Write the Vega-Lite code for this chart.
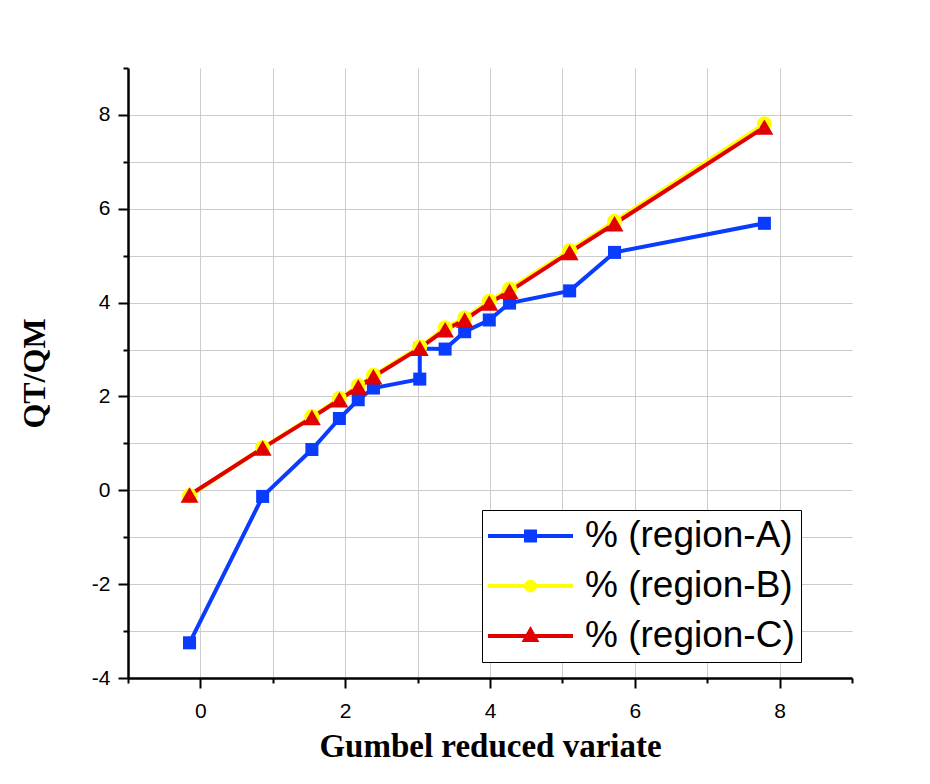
{
  "$schema": "https://vega.github.io/schema/vega-lite/v6.json",
  "width": 724,
  "height": 610,
  "autosize": "none",
  "padding": {"left": 128, "top": 68, "right": 78, "bottom": 106},
  "background": "white",
  "config": {
    "view": {"stroke": null},
    "axis": {
      "domainColor": "black",
      "domainWidth": 2.5,
      "tickColor": "black",
      "tickWidth": 2,
      "gridColor": "#cccccc",
      "gridWidth": 1,
      "labelFont": "Liberation Sans",
      "labelFontSize": 21,
      "labelColor": "black",
      "titleFont": "Liberation Serif",
      "titleFontWeight": "bold",
      "titleColor": "black"
    },
    "legend": {
      "title": null,
      "orient": "none",
      "legendX": 354,
      "legendY": 442,
      "padding": 6,
      "strokeColor": "black",
      "fillColor": "white",
      "labelFont": "Liberation Sans",
      "labelFontSize": 37,
      "labelColor": "black",
      "labelOffset": 12,
      "labelLimit": 400,
      "rowPadding": 10,
      "clipHeight": 40,
      "symbolSize": 7225,
      "symbolStrokeWidth": 0,
      "symbolOpacity": 1
    }
  },
  "data": {
    "values": [
      {"region": "% (region-A)", "i": 1, "x": -0.15, "y": -3.25},
      {"region": "% (region-A)", "i": 2, "x": 0.86, "y": -0.13},
      {"region": "% (region-A)", "i": 3, "x": 1.54, "y": 0.87},
      {"region": "% (region-A)", "i": 4, "x": 1.92, "y": 1.53},
      {"region": "% (region-A)", "i": 5, "x": 2.18, "y": 1.93},
      {"region": "% (region-A)", "i": 6, "x": 2.39, "y": 2.18},
      {"region": "% (region-A)", "i": 7, "x": 3.03, "y": 2.37},
      {"region": "% (region-A)", "i": 8, "x": 3.03, "y": 3.02},
      {"region": "% (region-A)", "i": 9, "x": 3.38, "y": 3.01},
      {"region": "% (region-A)", "i": 10, "x": 3.65, "y": 3.38},
      {"region": "% (region-A)", "i": 11, "x": 3.99, "y": 3.63},
      {"region": "% (region-A)", "i": 12, "x": 4.27, "y": 3.99},
      {"region": "% (region-A)", "i": 13, "x": 5.10, "y": 4.25},
      {"region": "% (region-A)", "i": 14, "x": 5.72, "y": 5.07},
      {"region": "% (region-A)", "i": 15, "x": 7.79, "y": 5.69},
      {"region": "% (region-B)", "i": 1, "x": -0.15, "y": -0.12},
      {"region": "% (region-B)", "i": 2, "x": 0.86, "y": 0.91},
      {"region": "% (region-B)", "i": 3, "x": 1.54, "y": 1.57},
      {"region": "% (region-B)", "i": 4, "x": 1.92, "y": 1.96},
      {"region": "% (region-B)", "i": 5, "x": 2.18, "y": 2.23},
      {"region": "% (region-B)", "i": 6, "x": 2.39, "y": 2.45},
      {"region": "% (region-B)", "i": 7, "x": 3.03, "y": 3.06},
      {"region": "% (region-B)", "i": 8, "x": 3.38, "y": 3.46},
      {"region": "% (region-B)", "i": 9, "x": 3.65, "y": 3.67},
      {"region": "% (region-B)", "i": 10, "x": 3.99, "y": 4.03},
      {"region": "% (region-B)", "i": 11, "x": 4.27, "y": 4.29},
      {"region": "% (region-B)", "i": 12, "x": 5.10, "y": 5.11},
      {"region": "% (region-B)", "i": 13, "x": 5.72, "y": 5.73},
      {"region": "% (region-B)", "i": 14, "x": 7.79, "y": 7.81},
      {"region": "% (region-C)", "i": 1, "x": -0.15, "y": -0.10},
      {"region": "% (region-C)", "i": 2, "x": 0.86, "y": 0.90},
      {"region": "% (region-C)", "i": 3, "x": 1.54, "y": 1.55},
      {"region": "% (region-C)", "i": 4, "x": 1.92, "y": 1.93},
      {"region": "% (region-C)", "i": 5, "x": 2.18, "y": 2.20},
      {"region": "% (region-C)", "i": 6, "x": 2.39, "y": 2.42},
      {"region": "% (region-C)", "i": 7, "x": 3.03, "y": 3.03},
      {"region": "% (region-C)", "i": 8, "x": 3.38, "y": 3.42},
      {"region": "% (region-C)", "i": 9, "x": 3.65, "y": 3.63},
      {"region": "% (region-C)", "i": 10, "x": 3.99, "y": 3.99},
      {"region": "% (region-C)", "i": 11, "x": 4.27, "y": 4.24},
      {"region": "% (region-C)", "i": 12, "x": 5.10, "y": 5.07},
      {"region": "% (region-C)", "i": 13, "x": 5.72, "y": 5.68},
      {"region": "% (region-C)", "i": 14, "x": 7.79, "y": 7.74}
    ]
  },
  "encoding": {
    "x": {
      "field": "x", "type": "quantitative",
      "scale": {"domain": [-1, 9], "nice": false, "zero": false},
      "axis": {
        "title": "Gumbel reduced variate",
        "titleFontSize": 33,
        "values": [-1, 0, 1, 2, 3, 4, 5, 6, 7, 8, 9],
        "labelExpr": "datum.value % 2 === 0 ? '' + datum.value : ''",
        "tickSize": {"condition": {"test": "datum.value % 2 === 0", "value": 10}, "value": 5},
        "gridOpacity": {"condition": {"test": "datum.value === 9 || datum.value === -1", "value": 0}, "value": 1},
        "labelPadding": 12,
        "titlePadding": 9,
        "labelFlush": false
      }
    },
    "y": {
      "field": "y", "type": "quantitative",
      "scale": {"domain": [-4, 9], "nice": false, "zero": false},
      "axis": {
        "title": "QT/QM",
        "titleFontSize": 32,
        "values": [-4, -3, -2, -1, 0, 1, 2, 3, 4, 5, 6, 7, 8, 9],
        "labelExpr": "datum.value % 2 === 0 ? '' + datum.value : ''",
        "tickSize": {"condition": {"test": "datum.value % 2 === 0", "value": 10}, "value": 5},
        "gridOpacity": {"condition": {"test": "datum.value === 9 || datum.value === -4", "value": 0}, "value": 1},
        "labelPadding": 8,
        "titlePadding": 40,
        "labelFlush": false
      }
    }
  },
  "layer": [
    {
      "transform": [{"filter": "datum.region === '% (region-A)'"}],
      "mark": {"type": "line", "strokeWidth": 4, "color": "#0a3cff"},
      "encoding": {"order": {"field": "i", "type": "quantitative"}}
    },
    {
      "transform": [{"filter": "datum.region === '% (region-B)'"}],
      "mark": {"type": "line", "strokeWidth": 4, "color": "#ffff00"},
      "encoding": {"order": {"field": "i", "type": "quantitative"}}
    },
    {
      "transform": [{"filter": "datum.region === '% (region-C)'"}],
      "mark": {"type": "line", "strokeWidth": 4, "color": "#e00000"},
      "encoding": {"order": {"field": "i", "type": "quantitative"}}
    },
    {
      "transform": [{"filter": "datum.region === '% (region-A)'"}],
      "mark": {"type": "point", "shape": "square", "filled": true, "opacity": 1, "size": 170, "color": "#0a3cff"}
    },
    {
      "transform": [{"filter": "datum.region === '% (region-B)'"}],
      "mark": {"type": "point", "shape": "circle", "filled": true, "opacity": 1, "size": 230, "color": "#ffff00"}
    },
    {
      "transform": [{"filter": "datum.region === '% (region-C)'"}],
      "mark": {"type": "point", "shape": "triangle-up", "filled": true, "opacity": 1, "size": 320, "color": "#e00000"}
    },
    {
      "transform": [{"filter": "datum.i === 0"}],
      "mark": {"type": "point", "filled": true},
      "encoding": {
        "color": {
          "field": "region", "type": "nominal",
          "scale": {
            "domain": ["% (region-A)", "% (region-B)", "% (region-C)"],
            "range": ["#0a3cff", "#ffff00", "#e00000"]
          }
        },
        "shape": {
          "field": "region", "type": "nominal",
          "scale": {
            "domain": ["% (region-A)", "% (region-B)", "% (region-C)"],
            "range": [
              "M-1,-0.047H1V0.047H-1ZM-0.153,-0.153H0.153V0.153H-0.153Z",
              "M-1,-0.047H1V0.047H-1ZM0.15,0A0.15,0.15 0 1,1 -0.15,0A0.15,0.15 0 1,1 0.15,0Z",
              "M-1,-0.047H1V0.047H-1ZM0,-0.235L0.21,0.14H-0.21Z"
            ]
          }
        }
      }
    }
  ]
}
